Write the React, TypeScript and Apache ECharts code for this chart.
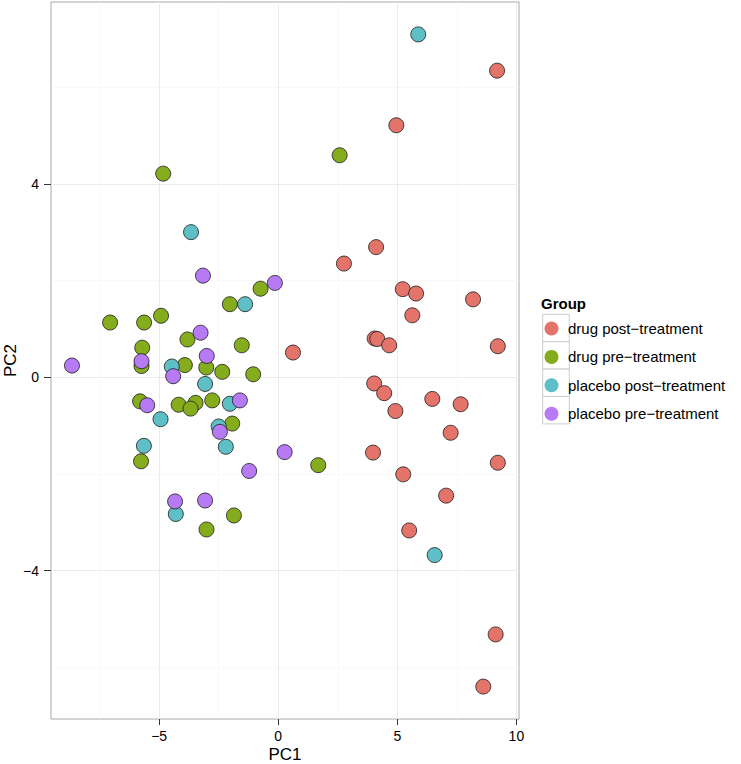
import React, { useEffect, useRef } from "react";
import * as echarts from "echarts";

const groupNames = [
  "drug post−treatment",
  "drug pre−treatment",
  "placebo post−treatment",
  "placebo pre−treatment",
];
const groupColors = ["#E4736A", "#84AC1C", "#5EBFC6", "#B77AF5"];

const drugPost: [number, number][] = [
  [9.19, 6.34], [4.96, 5.21], [4.11, 2.69], [2.76, 2.35], [5.23, 1.82],
  [5.79, 1.73], [8.18, 1.61], [5.63, 1.28], [4.05, 0.8], [4.16, 0.79],
  [4.66, 0.66], [9.22, 0.64], [0.62, 0.51], [4.03, -0.13], [4.45, -0.33],
  [6.47, -0.45], [7.66, -0.56], [4.92, -0.7], [7.24, -1.15], [3.98, -1.56],
  [9.22, -1.77], [5.25, -2.01], [7.05, -2.45], [5.5, -3.17], [9.13, -5.32],
  [8.61, -6.4],
];
const drugPre: [number, number][] = [
  [-4.83, 4.21], [2.58, 4.59], [-0.74, 1.83], [-2.03, 1.51], [-7.06, 1.13],
  [-5.63, 1.13], [-4.92, 1.27], [-3.81, 0.78], [-1.53, 0.66], [-5.71, 0.61],
  [-5.74, 0.23], [-3.02, 0.2], [-3.92, 0.25], [-2.35, 0.11], [-1.05, 0.06],
  [-5.8, -0.5], [-4.18, -0.57], [-3.47, -0.53], [-3.68, -0.65], [-2.77, -0.48],
  [-1.93, -0.96], [1.68, -1.82], [-5.76, -1.74], [-3.01, -3.15], [-1.86, -2.86],
];
const placeboPost: [number, number][] = [
  [5.88, 7.09], [-3.66, 3.0], [-1.39, 1.51], [-4.47, 0.22], [-3.07, -0.14],
  [-2.03, -0.55], [-4.94, -0.87], [-2.5, -1.02], [-5.64, -1.42], [-2.2, -1.44],
  [6.57, -3.68], [-4.3, -2.83],
];
const placeboPre: [number, number][] = [
  [-3.16, 2.1], [-0.14, 1.95], [-3.26, 0.92], [-5.74, 0.33], [-8.66, 0.24],
  [-3.0, 0.44], [-4.41, 0.02], [-5.5, -0.58], [-1.61, -0.48], [-2.45, -1.13],
  [0.27, -1.55], [-1.22, -1.94], [-4.33, -2.57], [-3.07, -2.55],
];

const xMajorTicks = [-5, 0, 5, 10];
const xMinorTicks = [-7.5, -2.5, 2.5, 7.5];
const yMajorTicks = [-4, 0, 4];
const yMinorTicks = [-6, -2, 2, 6];

const FONT = "'Liberation Sans', Arial, Helvetica, sans-serif";

const fmt = (v: number) => String(v).replace("-", "\u2212");

export default function App() {
  const ref = useRef<HTMLDivElement>(null);
  useEffect(() => {
    if (!ref.current) return;
    const chart = echarts.init(ref.current, null, { renderer: "svg" });
    const allData = [drugPost, drugPre, placeboPost, placeboPre];
    const xRange = { min: -9.54, max: 10.11 };
    const yRange = { min: -7.07, max: 7.76 };
    const keyTop = 314.3;
    const keyH = 27.4;
    chart.setOption({
      animation: false,
      backgroundColor: "#ffffff",
      textStyle: { fontFamily: FONT },
      grid: {
        left: 51,
        top: 2,
        right: 222,
        bottom: 45,
        containLabel: false,
        outerBoundsMode: "none",
        show: true,
        borderColor: "#A8A8A8",
        borderWidth: 1,
        backgroundColor: "#ffffff",
        z: 0,
      },
      title: {
        text: "Group",
        left: 541,
        top: 296,
        padding: 0,
        textStyle: { fontFamily: FONT, fontSize: 15, fontWeight: "bold", color: "#000" },
      },
      legend: {
        orient: "vertical",
        left: 544.5,
        top: keyTop + (keyH - 14) / 2,
        padding: 0,
        itemWidth: 23,
        itemHeight: 14,
        itemGap: keyH - 14,
        icon: "circle",
        z: 10,
        itemStyle: { borderWidth: 0 },
        textStyle: { fontFamily: FONT, fontSize: 15, color: "#000", lineHeight: 14 },
        data: groupNames,
      },
      graphic: groupNames.map((_, i) => ({
        type: "rect",
        z: 1,
        shape: { x: 542.7, y: keyTop + i * keyH, width: 26.6, height: keyH },
        style: { fill: "#ffffff", stroke: "#CCCCCC", lineWidth: 1 },
      })),
      xAxis: [
        {
          type: "value",
          ...xRange,
          name: "PC1",
          nameLocation: "middle",
          nameGap: 27,
          nameMoveOverlap: false,
          nameTextStyle: { fontFamily: FONT, fontSize: 17, lineHeight: 17, color: "#000" },
          axisLine: { show: false, onZero: false },
          axisTick: { show: true, length: 6, customValues: xMajorTicks, lineStyle: { color: "#333", width: 1 } },
          axisLabel: {
            customValues: xMajorTicks,
            margin: 10,
            fontFamily: FONT,
            fontSize: 14,
            lineHeight: 14,
            color: "#000",
            formatter: fmt,
          },
          splitLine: { show: true, lineStyle: { color: "#EBEBEB", width: 1 } },
        },
        {
          type: "value",
          ...xRange,
          position: "bottom",
          axisLine: { show: false, onZero: false },
          axisTick: { show: false, customValues: xMinorTicks },
          axisLabel: { show: false, customValues: xMinorTicks },
          splitLine: { show: true, lineStyle: { color: "#F5F5F5", width: 0.6 } },
        },
      ],
      yAxis: [
        {
          type: "value",
          ...yRange,
          name: "PC2",
          nameLocation: "middle",
          nameGap: 32,
          nameRotate: 90,
          nameMoveOverlap: false,
          nameTextStyle: { fontFamily: FONT, fontSize: 17, lineHeight: 17, color: "#000" },
          axisLine: { show: false, onZero: false },
          axisTick: { show: true, length: 7, customValues: yMajorTicks, lineStyle: { color: "#333", width: 1 } },
          axisLabel: {
            customValues: yMajorTicks,
            margin: 12,
            fontFamily: FONT,
            fontSize: 14,
            color: "#000",
            formatter: fmt,
          },
          splitLine: { show: true, lineStyle: { color: "#EBEBEB", width: 1 } },
        },
        {
          type: "value",
          ...yRange,
          position: "left",
          axisLine: { show: false, onZero: false },
          axisTick: { show: false, customValues: yMinorTicks },
          axisLabel: { show: false, customValues: yMinorTicks },
          splitLine: { show: true, lineStyle: { color: "#F5F5F5", width: 0.6 } },
        },
      ],
      series: allData.map((d, i) => ({
        name: groupNames[i],
        type: "scatter",
        xAxisIndex: 0,
        yAxisIndex: 0,
        data: d,
        symbol: "circle",
        symbolSize: 15,
        z: 5,
        itemStyle: { color: groupColors[i], borderColor: "#1a1a1a", borderWidth: 0.8, opacity: 1 },
        emphasis: { disabled: true },
      })),
    });
    return () => chart.dispose();
  }, []);
  return (
    <div
      ref={ref}
      style={{ position: "fixed", left: 0, top: 0, width: 741, height: 764 }}
    />
  );
}
